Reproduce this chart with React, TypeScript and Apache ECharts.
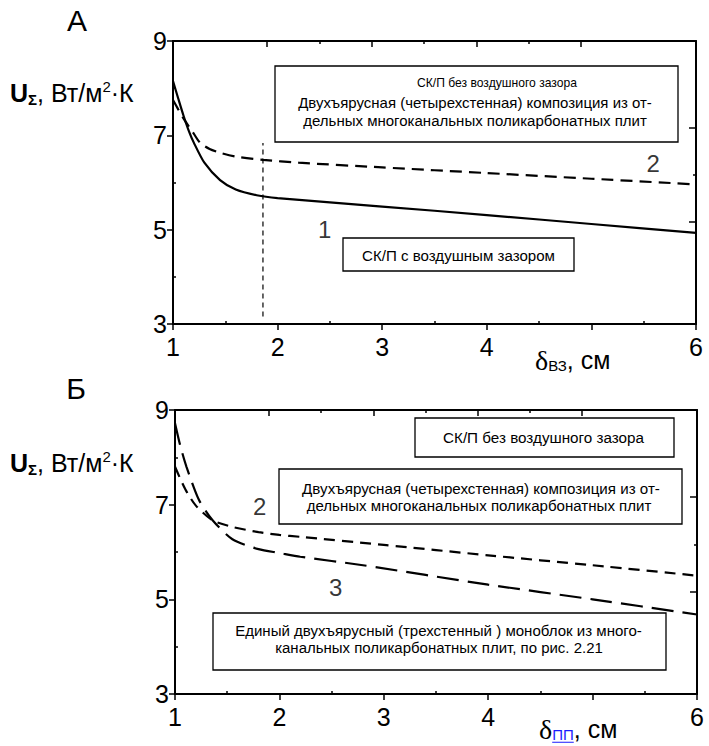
import React, { useEffect, useRef } from "react";
import * as echarts from "echarts";

// ---------- data ----------
const xTickLabels = ["1", "2", "3", "4", "", "6"];
const yTickLabels = ["3", "5", "7", "9"];

// Panel A
const aCurve1X = [1.0, 1.05, 1.1, 1.15, 1.2, 1.3, 1.45, 1.6, 1.8, 2.0, 3, 4, 5, 6];
const aCurve1Y = [8.15, 7.78, 7.42, 7.1, 6.84, 6.42, 6.05, 5.85, 5.73, 5.67, 5.49, 5.31, 5.12, 4.93];
const aCurve2X = [1.0, 1.05, 1.1, 1.2, 1.26, 1.35, 1.45, 1.6, 1.86, 2.2, 3, 4, 5, 6];
const aCurve2Y = [7.75, 7.55, 7.36, 7.03, 6.84, 6.71, 6.63, 6.55, 6.48, 6.42, 6.32, 6.2, 6.08, 5.96];
const aVLineX = [1.86, 1.86];
const aVLineY = [3.16, 6.84];
const aLabelNames = ["1", "2"];
const aLabelX = [2.45, 5.59];
const aLabelY = [5.0, 6.4];

// Panel Б
const bCurve2X = [1.0, 1.1, 1.2, 1.36, 1.55, 1.8, 2.0, 2.2, 3, 4, 5, 6];
const bCurve2Y = [7.8, 7.32, 6.98, 6.67, 6.53, 6.42, 6.36, 6.32, 6.15, 5.93, 5.72, 5.5];
const bCurve3X = [1.0, 1.05, 1.11, 1.23, 1.36, 1.55, 1.8, 2.0, 2.2, 2.8, 4, 5, 6];
const bCurve3Y = [8.72, 8.25, 7.8, 7.1, 6.67, 6.27, 6.06, 5.98, 5.9, 5.72, 5.31, 5.0, 4.68];
const bLabelNames = ["2", "3"];
const bLabelX = [1.81, 2.54];
const bLabelY = [6.96, 5.25];

// axis ticks
const xMinorTicks = [1.5, 2.5, 3.5, 4.5, 5.5];
const yMinorTicks = [4, 6, 8];
const topLongTicks = [1.9, 2.9, 3.9, 4.9];
const topShortTicks = [2.4, 3.4, 4.4];
const rightLongTicks = [5.16, 7.16];
const rightShortTicks = [6.16];

// annotation texts
const boxA1Lines = [
  "СК/П без воздушного зазора",
  "Двухъярусная (четырехстенная) композиция из от-",
  "дельных многоканальных поликарбонатных плит",
];
const boxA2Lines = ["СК/П с воздушным зазором"];
const boxB1Lines = ["СК/П без воздушного зазора"];
const boxB2Lines = [
  "Двухъярусная (четырехстенная) композиция из от-",
  "дельных многоканальных поликарбонатных плит",
];
const boxB3Lines = [
  "Единый двухъярусный (трехстенный ) моноблок из много-",
  "канальных поликарбонатных плит, по рис. 2.21",
];

const SANS = "'Liberation Sans', Arial, sans-serif";
const SERIF = "'Liberation Serif', 'Times New Roman', serif";

const zip = (xs: number[], ys: number[]) => xs.map((x, i) => [x, ys[i]]);

let measureCtx: CanvasRenderingContext2D | null = null;
function measure(text: string, font: string) {
  if (!measureCtx) measureCtx = document.createElement("canvas").getContext("2d");
  measureCtx!.font = font;
  return measureCtx!.measureText(text).width;
}

type Piece = { t: string; size: number; family?: string; weight?: string; dy?: number; color?: string; underline?: boolean };
function pieces(list: Piece[], x0: number, yMid: number) {
  const els: any[] = [];
  let x = x0;
  for (const p of list) {
    const fam = p.family || SANS;
    const weight = p.weight || "normal";
    const w = measure(p.t, `${weight} ${p.size}px ${fam}`);
    els.push({
      type: "text",
      x,
      y: yMid + (p.dy || 0),
      style: {
        text: p.t,
        fontSize: p.size,
        fontFamily: fam,
        fontWeight: weight,
        fill: p.color || "#000",
        align: "left",
        verticalAlign: "middle",
        textAlign: "left",
        textVerticalAlign: "middle",
      },
    });
    if (p.underline) {
      const uy = yMid + (p.dy || 0) + p.size * 0.55;
      els.push({
        type: "line",
        shape: { x1: x, y1: uy, x2: x + w, y2: uy },
        style: { stroke: p.color || "#000", lineWidth: 1 },
      });
    }
    x += w;
  }
  return els;
}

// each line: [centerX, centerY, targetWidth]
function box(rect: number[], lines: string[], place: number[][]) {
  const els: any[] = [
    {
      type: "rect",
      shape: { x: rect[0], y: rect[1], width: rect[2], height: rect[3] },
      style: { fill: "#fff", stroke: "#000", lineWidth: 1.3 },
      z: 50,
    },
  ];
  lines.forEach((t, i) => {
    const [cx, cy, tw] = place[i];
    const size = (12 * tw) / measure(t, `12px ${SANS}`);
    els.push({
      type: "text",
      x: cx,
      y: cy,
      z: 51,
      style: {
        text: t,
        fontSize: size,
        fontFamily: SANS,
        fill: "#000",
        align: "center",
        verticalAlign: "middle",
        textAlign: "center",
        textVerticalAlign: "middle",
      },
    });
  });
  return els;
}

const axisLineStyle = { show: true, lineStyle: { color: "#000", width: 2 } };
const noLine = { show: false };
const tickStyle = { color: "#000", width: 1.5 };

function buildAxes(p: number) {
  const gb = p * 3;
  const xBase = { type: "value", min: 1, max: 6, splitLine: { show: false } };
  const yBase = { type: "value", min: 3, max: 9, splitLine: { show: false } };
  const xAxes = [
    {
      ...xBase,
      gridIndex: gb,
      position: "bottom",
      interval: 1,
      axisLine: axisLineStyle,
      axisTick: { show: true, inside: false, length: 6, lineStyle: tickStyle },
      axisLabel: {
        show: true,
        margin: 10,
        fontSize: 25,
        fontFamily: SANS,
        color: "#000",
        showMinLabel: true,
        showMaxLabel: true,
        formatter: (v: number) => xTickLabels[Math.round(v) - 1] ?? "",
      },
    },
    {
      ...xBase,
      gridIndex: gb,
      position: "top",
      axisLine: axisLineStyle,
      axisTick: { show: false },
      axisLabel: { show: false },
    },
    {
      ...xBase,
      gridIndex: gb + 1,
      position: "bottom",
      axisLine: noLine,
      axisTick: { show: true, inside: true, length: 3, customValues: xMinorTicks, lineStyle: tickStyle },
      axisLabel: { show: false },
    },
    {
      ...xBase,
      gridIndex: gb + 1,
      position: "top",
      axisLine: noLine,
      axisTick: { show: true, inside: true, length: 6, customValues: topLongTicks, lineStyle: tickStyle },
      axisLabel: { show: false },
    },
    {
      ...xBase,
      gridIndex: gb + 2,
      position: "top",
      axisLine: noLine,
      axisTick: { show: true, inside: true, length: 3, customValues: topShortTicks, lineStyle: tickStyle },
      axisLabel: { show: false },
    },
  ];
  const yAxes = [
    {
      ...yBase,
      gridIndex: gb,
      position: "left",
      interval: 2,
      axisLine: axisLineStyle,
      axisTick: { show: true, inside: false, length: 6, lineStyle: tickStyle },
      axisLabel: {
        show: true,
        margin: 6,
        fontSize: 25,
        fontFamily: SANS,
        color: "#000",
        showMinLabel: true,
        showMaxLabel: true,
        formatter: (v: number) => yTickLabels[Math.round((v - 3) / 2)] ?? "",
      },
    },
    {
      ...yBase,
      gridIndex: gb,
      position: "right",
      axisLine: axisLineStyle,
      axisTick: { show: false },
      axisLabel: { show: false },
    },
    {
      ...yBase,
      gridIndex: gb + 1,
      position: "left",
      axisLine: noLine,
      axisTick: { show: true, inside: true, length: 3, customValues: yMinorTicks, lineStyle: tickStyle },
      axisLabel: { show: false },
    },
    {
      ...yBase,
      gridIndex: gb + 1,
      position: "right",
      axisLine: noLine,
      axisTick: { show: true, inside: true, length: 7, customValues: rightLongTicks, lineStyle: tickStyle },
      axisLabel: { show: false },
    },
    {
      ...yBase,
      gridIndex: gb + 2,
      position: "right",
      axisLine: noLine,
      axisTick: { show: true, inside: true, length: 3, customValues: rightShortTicks, lineStyle: tickStyle },
      axisLabel: { show: false },
    },
  ];
  return { xAxes, yAxes };
}

function curve(p: number, data: number[][], type: any, width: number) {
  return {
    type: "line",
    xAxisIndex: p * 5,
    yAxisIndex: p * 5,
    data,
    symbol: "none",
    smooth: 0.25,
    lineStyle: { color: "#000", width, type },
    silent: true,
    z: 3,
  };
}

function labels(p: number, names: string[], xs: number[], ys: number[]) {
  return {
    type: "scatter",
    xAxisIndex: p * 5,
    yAxisIndex: p * 5,
    symbolSize: 0,
    data: names.map((n, i) => ({ name: n, value: [xs[i], ys[i]] })),
    label: {
      show: true,
      position: "inside",
      formatter: (d: any) => d.name,
      fontSize: 24,
      fontFamily: SANS,
      color: "#000",
    },
    silent: true,
    z: 4,
  };
}

const yNamePieces: Piece[] = [
  { t: "U", size: 25, weight: "bold" },
  { t: "Σ", size: 15, weight: "bold", dy: 6 },
  { t: ", Вт/м", size: 25 },
  { t: "2", size: 15, dy: -7 },
  { t: "·К", size: 25 },
];

export default function App() {
  const ref = useRef<HTMLDivElement>(null);
  useEffect(() => {
    if (!ref.current) return;
    const chart = echarts.init(ref.current, null, { renderer: "svg" });
    const rectA = { left: 173, top: 41, width: 523, height: 283 };
    const rectB = { left: 175, top: 410, width: 522, height: 284 };
    const grids = [rectA, rectA, rectA, rectB, rectB, rectB].map((r) => ({ ...r, outerBoundsMode: "none", containLabel: false }));
    const a = buildAxes(0);
    const b = buildAxes(1);

    const graphics: any[] = [
      { type: "text", x: 77, y: 20, style: { text: "А", fontSize: 30, fontFamily: SANS, fill: "#000", align: "center", verticalAlign: "middle", textAlign: "center", textVerticalAlign: "middle" } },
      { type: "text", x: 76, y: 388, style: { text: "Б", fontSize: 30, fontFamily: SANS, fill: "#000", align: "center", verticalAlign: "middle", textAlign: "center", textVerticalAlign: "middle" } },
      ...pieces(yNamePieces, 10, 93),
      ...pieces(yNamePieces, 10, 463),
      ...pieces(
        [
          { t: "δ", size: 28, family: SERIF },
          { t: "ВЗ", size: 15, dy: 5 },
          { t: ", см", size: 25 },
        ],
        535,
        360
      ),
      ...pieces(
        [
          { t: "δ", size: 28, family: SERIF },
          { t: "ПП", size: 15, dy: 5, color: "#1a1aff", underline: true },
          { t: ", см", size: 25 },
        ],
        539,
        729
      ),
      ...box([275, 66, 403, 76], boxA1Lines, [[497, 83, 160], [475, 102, 354], [475, 120, 344]]),
      ...box([343, 238, 231, 33], boxA2Lines, [[458.5, 255, 193]]),
      ...box([415, 418, 259, 39], boxB1Lines, [[543.5, 437, 201]]),
      ...box([279, 469, 403, 55], boxB2Lines, [[481, 488, 358], [479, 505, 345]]),
      ...box([213, 613, 453, 57], boxB3Lines, [[438.5, 630, 407], [439, 647, 328]]),
    ];

    chart.setOption({
      animation: false,
      grid: grids,
      xAxis: [...a.xAxes, ...b.xAxes],
      yAxis: [...a.yAxes, ...b.yAxes],
      series: [
        curve(0, zip(aCurve1X, aCurve1Y), "solid", 2.2),
        curve(0, zip(aCurve2X, aCurve2Y), [12, 7], 2.2),
        {
          type: "line",
          xAxisIndex: 0,
          yAxisIndex: 0,
          data: zip(aVLineX, aVLineY),
          symbol: "none",
          lineStyle: { color: "#000", width: 1.2, type: [5, 4] },
          silent: true,
        },
        labels(0, aLabelNames, aLabelX, aLabelY),
        curve(1, zip(bCurve2X, bCurve2Y), [11, 7], 2.2),
        curve(1, zip(bCurve3X, bCurve3Y), [22, 9], 2.2),
        labels(1, bLabelNames, bLabelX, bLabelY),
      ],
      graphic: graphics,
    });
    return () => chart.dispose();
  }, []);
  return <div ref={ref} style={{ position: "absolute", left: 0, top: 0, width: 709, height: 746, background: "#fff" }} />;
}
